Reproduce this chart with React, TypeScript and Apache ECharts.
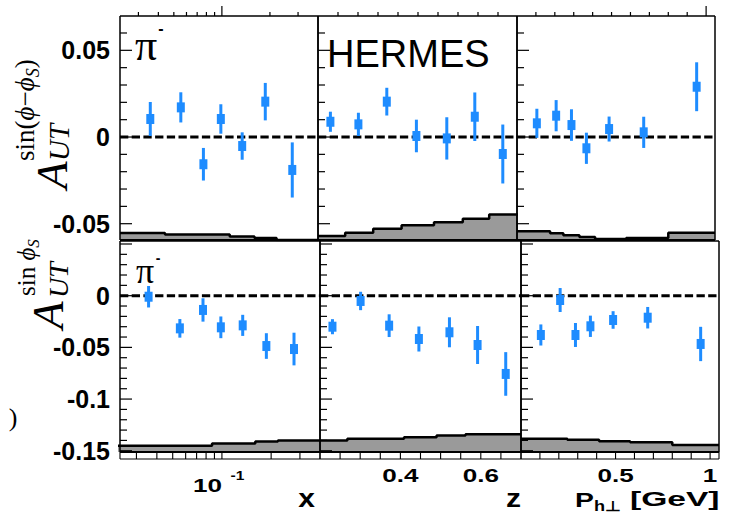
import React, { useEffect, useRef } from "react";
import * as echarts from "echarts";

// ---------- bin centres ----------
const xValues = [0.0356, 0.0553, 0.0766, 0.0985, 0.134, 0.187, 0.276];
const zValues = [0.231, 0.301, 0.372, 0.446, 0.522, 0.592, 0.662];
const phValues = [0.105, 0.207, 0.288, 0.367, 0.487, 0.67, 0.95];

// ---------- A_UT^{sin(phi-phiS)} (top row) ----------
const siversX = [0.0104, 0.0171, -0.0157, 0.0104, -0.0052, 0.0204, -0.019];
const siversXErr = [0.0098, 0.0087, 0.0094, 0.0085, 0.0079, 0.0108, 0.0159];
const siversZ = [0.0088, 0.0073, 0.0204, 0.0006, -0.0008, 0.0117, -0.0098];
const siversZErr = [0.0058, 0.0067, 0.008, 0.0094, 0.0122, 0.014, 0.017];
const siversPh = [0.0079, 0.0123, 0.0069, -0.0065, 0.0046, 0.0027, 0.029];
const siversPhErr = [0.0084, 0.009, 0.0091, 0.009, 0.0072, 0.009, 0.0141];

// ---------- A_UT^{sin phiS} (bottom row) ----------
const sinPhiSX = [-0.001, -0.0316, -0.0138, -0.0306, -0.0287, -0.0487, -0.0516];
const sinPhiSXErr = [0.0104, 0.009, 0.0113, 0.0105, 0.0102, 0.0124, 0.0158];
const sinPhiSZ = [-0.03, -0.0051, -0.029, -0.0419, -0.0354, -0.0477, -0.0757];
const sinPhiSZErr = [0.0073, 0.0089, 0.011, 0.0121, 0.0145, 0.0184, 0.0211];
const sinPhiSPh = [-0.038, -0.0042, -0.038, -0.0296, -0.0235, -0.0213, -0.0467];
const sinPhiSPhErr = [0.0102, 0.0116, 0.0116, 0.0103, 0.0085, 0.0104, 0.0166];

// ---------- systematic bands: bin edges and heights above panel floor ----------
const xEdges = [0.023, 0.044, 0.065, 0.087, 0.112, 0.16, 0.22, 0.4];
const zEdges = [0.2, 0.268, 0.338, 0.409, 0.49, 0.562, 0.628, 0.7];
const phEdges = [0, 0.175, 0.245, 0.33, 0.413, 0.577, 0.8, 1.047];
const sysSiversX = [0.004, 0.0032, 0.0032, 0.0032, 0.002, 0.0012, 0];
const sysSiversZ = [0.0023, 0.0042, 0.0065, 0.0085, 0.0103, 0.0123, 0.0147];
const sysSiversPh = [0.0051, 0.0039, 0.0027, 0.0017, 0.0006, 0.0012, 0.0042];
const sysSinPhiSX = [0.006, 0.006, 0.006, 0.0082, 0.0082, 0.0102, 0.0111];
const sysSinPhiSZ = [0.0111, 0.0128, 0.0128, 0.0143, 0.016, 0.0171, 0.0171];
const sysSinPhiSPh = [0.0128, 0.0128, 0.0118, 0.0118, 0.0104, 0.0095, 0.0068];

// ---------- ticks and tick labels ----------
const xMinorTicks = [0.03, 0.04, 0.05, 0.06, 0.07, 0.08, 0.09, 0.2, 0.3];
const xMajorTicks = [0.1];
const zMinorTicks = [0.25, 0.3, 0.35, 0.4, 0.45, 0.5, 0.55, 0.6, 0.65];
const zMajorTicks: number[] = [];
const phMinorTicks = [0.1, 0.2, 0.3, 0.4, 0.5, 0.6, 0.7, 0.8, 0.9];
const phMajorTicks = [1.0];
const yTopMinor = [-0.04, -0.03, -0.02, -0.01, 0.01, 0.02, 0.03, 0.04, 0.06];
const yTopMajor = [-0.05, 0, 0.05];
const yBotMinor = [-0.14, -0.13, -0.12, -0.11, -0.09, -0.08, -0.07, -0.06, -0.04, -0.03, -0.02, -0.01, 0.01, 0.02, 0.03, 0.04];
const yBotMajor = [-0.15, -0.1, -0.05, 0, 0.05];
const yTopLabelValues = [0.05, 0, -0.05];
const yTopLabels = ["0.05", "0", "-0.05"];
const yBotLabelValues = [0, -0.05, -0.1, -0.15];
const yBotLabels = ["0", "-0.05", "-0.1", "-0.15"];
const xLabelValues = [0.1];
const xLabels = ["10"];
const xLabelExponents = ["-1"];
const zLabelValues = [0.4, 0.6];
const zLabels = ["0.4", "0.6"];
const phLabelValues = [0.5, 1];
const phLabels = ["0.5", "1"];

const TOP_Y = [-0.0594, 0.0698];
const BOT_Y = [-0.1512, 0.0529];
const BLUE = "#1e8cff";

type Panel = {
  grid: { left: number; top: number; width: number; height: number };
  xType: "log" | "value";
  xRange: number[];
  yRange: number[];
  row: number;
  centres: number[];
  vals: number[];
  errs: number[];
  edges: number[];
  sys: number[];
  minorX: number[];
  majorX: number[];
  yLabelVals?: number[];
  yLabelTexts?: string[];
  xLabelVals?: number[];
  xLabelTexts?: string[];
  xLabelExp?: string[];
};

const panels: Panel[] = [
  { grid: { left: 120, top: 16, width: 198, height: 224 }, xType: "log", xRange: [0.023, 0.4], yRange: TOP_Y, row: 0,
    centres: xValues, vals: siversX, errs: siversXErr, edges: xEdges, sys: sysSiversX, minorX: xMinorTicks, majorX: xMajorTicks,
    yLabelVals: yTopLabelValues, yLabelTexts: yTopLabels },
  { grid: { left: 318, top: 16, width: 199, height: 224 }, xType: "value", xRange: [0.2, 0.6975], yRange: TOP_Y, row: 0,
    centres: zValues, vals: siversZ, errs: siversZErr, edges: zEdges, sys: sysSiversZ, minorX: zMinorTicks, majorX: zMajorTicks },
  { grid: { left: 517, top: 16, width: 198, height: 224 }, xType: "value", xRange: [0, 1.047], yRange: TOP_Y, row: 0,
    centres: phValues, vals: siversPh, errs: siversPhErr, edges: phEdges, sys: sysSiversPh, minorX: phMinorTicks, majorX: phMajorTicks },
  { grid: { left: 120, top: 241, width: 200, height: 211 }, xType: "log", xRange: [0.0238, 0.398], yRange: BOT_Y, row: 1,
    centres: xValues, vals: sinPhiSX, errs: sinPhiSXErr, edges: xEdges, sys: sysSinPhiSX, minorX: xMinorTicks, majorX: xMajorTicks,
    yLabelVals: yBotLabelValues, yLabelTexts: yBotLabels, xLabelVals: xLabelValues, xLabelTexts: xLabels, xLabelExp: xLabelExponents },
  { grid: { left: 320, top: 241, width: 201, height: 211 }, xType: "value", xRange: [0.2, 0.7], yRange: BOT_Y, row: 1,
    centres: zValues, vals: sinPhiSZ, errs: sinPhiSZErr, edges: zEdges, sys: sysSinPhiSZ, minorX: zMinorTicks, majorX: zMajorTicks,
    xLabelVals: zLabelValues, xLabelTexts: zLabels },
  { grid: { left: 521, top: 241, width: 198, height: 211 }, xType: "value", xRange: [0, 1.047], yRange: BOT_Y, row: 1,
    centres: phValues, vals: sinPhiSPh, errs: sinPhiSPhErr, edges: phEdges, sys: sysSinPhiSPh, minorX: phMinorTicks, majorX: phMajorTicks,
    xLabelVals: phLabelValues, xLabelTexts: phLabels },
];

const SANS = "Liberation Sans";
const SERIF = "Liberation Serif";

function txt(text: string, fontSize: number, extra: any = {}) {
  return {
    text,
    fill: "#000",
    fontSize,
    fontFamily: SANS,
    fontWeight: "bold",
    align: "center",
    verticalAlign: "middle",
    ...extra,
  };
}

function buildOption() {
  const series: any[] = [];
  panels.forEach((cfg, p) => {
    const [yMin, yMax] = cfg.yRange;
    const [xMin, xMax] = cfg.xRange;
    const n = cfg.sys.length;
    const histData = cfg.sys.map((h, i) => [cfg.edges[i], yMin + h]);
    histData.push([cfg.edges[n], yMin + cfg.sys[n - 1]]);
    series.push({
      type: "line", xAxisIndex: p, yAxisIndex: p, step: "end", symbol: "none", silent: true, z: 2,
      data: histData,
      lineStyle: { color: "#000", width: 2.5 },
      areaStyle: { color: "#9a9a9a", opacity: 1, origin: "start" },
    });
    // dashed zero line
    series.push({
      type: "custom", xAxisIndex: p, yAxisIndex: p, z: 3, silent: true,
      data: [[xMin, 0]],
      renderItem: (_: any, api: any) => {
        const a = api.coord([xMin, 0]);
        const b = api.coord([xMax, 0]);
        return { type: "line", shape: { x1: a[0], y1: a[1], x2: b[0], y2: b[1] },
          style: { stroke: "#000", lineWidth: 3, lineDash: [8.3, 3.4] } };
      },
    });
    // points with error bars
    series.push({
      type: "custom", xAxisIndex: p, yAxisIndex: p, z: 5, silent: true,
      data: cfg.centres.map((c, i) => [c, cfg.vals[i], cfg.errs[i]]),
      encode: { x: 0, y: 1 },
      renderItem: (_: any, api: any) => {
        const x = api.value(0), y = api.value(1), e = api.value(2);
        const c = api.coord([x, y]);
        const lo = api.coord([x, y - e]);
        const hi = api.coord([x, y + e]);
        return { type: "group", children: [
          { type: "line", shape: { x1: c[0], y1: lo[1], x2: c[0], y2: hi[1] }, style: { stroke: BLUE, lineWidth: 3 } },
          { type: "rect", shape: { x: c[0] - 4, y: c[1] - 5, width: 8, height: 10 }, style: { fill: BLUE } },
        ] };
      },
    });
    // frame, ticks, tick labels
    series.push({
      type: "custom", xAxisIndex: p, yAxisIndex: p, z: 6, silent: true, clip: false,
      data: [[xMin, yMin]],
      renderItem: (_: any, api: any) => {
        const P = (x: number, y: number) => api.coord([x, y]);
        const [x0, y1] = P(xMin, yMin);
        const [x1, y0] = P(xMax, yMax);
        const ch: any[] = [];
        const line = (ax: number, ay: number, bx: number, by: number, w = 1.5) =>
          ch.push({ type: "line", shape: { x1: ax, y1: ay, x2: bx, y2: by }, style: { stroke: "#000", lineWidth: w } });
        line(x0, y0, x1, y0, 1.5);
        line(x0, y1, x1, y1, 2);
        line(x0, y0, x0, y1, 1.5);
        line(x1, y0, x1, y1, 1.5);
        const yMinor = cfg.row === 0 ? yTopMinor : yBotMinor;
        const yMajor = cfg.row === 0 ? yTopMajor : yBotMajor;
        yMinor.forEach((v) => { const y = P(xMin, v)[1]; if (y >= y0 && y <= y1) line(x0, y, x0 + 7, y, 1.2); });
        yMajor.forEach((v) => { const y = P(xMin, v)[1]; if (y >= y0 && y <= y1) line(x0, y, x0 + 12, y, 1.2); });
        if (cfg.row === 0) {
          cfg.minorX.forEach((v) => { const x = P(v, yMax)[0]; line(x, y0, x, y0 - 4, 1.2); });
          cfg.majorX.forEach((v) => { const x = P(v, yMax)[0]; line(x, y0, x, y0 - 10, 1.2); });
        } else {
          [...cfg.minorX, ...cfg.majorX].forEach((v) => { const x = P(v, yMin)[0]; line(x, y1, x, y1 + 7, 1.1); });
          line(x0, y1, x0, y1 + 7, 1.1);
          line(x1, y1, x1, y1 + 7, 1.1);
          line(x0, y1 + 7, x1, y1 + 7, 1.2);
        }
        (cfg.yLabelVals || []).forEach((v, i) => {
          const y = P(xMin, v)[1];
          ch.push({ type: "text", x: x0 - 10, y, style: txt(cfg.yLabelTexts![i], 25, { align: "right" }) });
        });
        (cfg.xLabelVals || []).forEach((v, i) => {
          const x = P(v, yMin)[0];
          if (cfg.xLabelExp) {
            ch.push({ type: "text", x: x - 14.5, y: y1 + 34, scaleX: 1.45, style: txt(cfg.xLabelTexts![i], 18) });
            ch.push({ type: "text", x: x + 15.5, y: y1 + 24, scaleX: 1.3, style: txt(cfg.xLabelExp[i], 12) });
          } else {
            ch.push({ type: "text", x, y: y1 + 24, scaleX: 1.45, style: txt(cfg.xLabelTexts![i], 18) });
          }
        });
        return { type: "group", children: ch };
      },
    });
  });

  const g = (x: number, y: number, style: any, extra: any = {}) => ({ type: "text", x, y, z: 100, silent: true, ...extra, style });
  const rot = { rotation: Math.PI / 2 };
  const graphic = [
    // y-axis title top: A_UT^{sin(phi-phiS)}
    g(52, 189, txt("A", 45, { fontFamily: SERIF, fontWeight: "normal", fontStyle: "italic", align: "left" }), rot),
    g(59, 161, txt("UT", 29, { fontFamily: SERIF, fontWeight: "normal", fontStyle: "italic", align: "left" }), rot),
    g(25, 161, {
      text: "{r|sin(}{i|ϕ}{r|−}{i|ϕ}{s|S}{r|)}", fill: "#000", align: "left", verticalAlign: "middle",
      fontFamily: SERIF, fontSize: 27,
      rich: {
        r: { fontFamily: SERIF, fontSize: 27, lineHeight: 34, verticalAlign: "middle", fill: "#000" },
        i: { fontFamily: SERIF, fontSize: 27, fontStyle: "italic", lineHeight: 34, verticalAlign: "middle", fill: "#000" },
        s: { fontFamily: SERIF, fontSize: 18, fontStyle: "italic", lineHeight: 34, verticalAlign: "bottom", fill: "#000" },
      },
    }, rot),
    // y-axis title bottom: A_UT^{sin phiS}
    g(48, 329, txt("A", 45, { fontFamily: SERIF, fontWeight: "normal", fontStyle: "italic", align: "left" }), rot),
    g(58.5, 298, txt("UT", 28, { fontFamily: SERIF, fontWeight: "normal", fontStyle: "italic", align: "left" }), rot),
    g(26, 296, {
      text: "{r|sin }{i|ϕ}{s|S}", fill: "#000", align: "left", verticalAlign: "middle",
      fontFamily: SERIF, fontSize: 25,
      rich: {
        r: { fontFamily: SERIF, fontSize: 25, lineHeight: 32, verticalAlign: "middle", fill: "#000" },
        i: { fontFamily: SERIF, fontSize: 25, fontStyle: "italic", lineHeight: 32, verticalAlign: "middle", fill: "#000" },
        s: { fontFamily: SERIF, fontSize: 17, fontStyle: "italic", lineHeight: 32, verticalAlign: "bottom", fill: "#000" },
      },
    }, rot),
    // pi^- labels
    g(146, 45, txt("π", 44, { fontFamily: SERIF, fontWeight: "normal" })),
    g(161, 28, txt("-", 16)),
    g(145, 271, txt("π", 36, { fontFamily: SERIF, fontWeight: "normal" })),
    g(158, 258, txt("-", 14)),
    // HERMES
    g(327, 54, txt("HERMES", 38, { fontWeight: "normal", align: "left" })),
    // stray bracket
    g(13, 417, txt(")", 26, { fontFamily: SERIF, fontWeight: "normal" })),
    // axis titles
    g(306.5, 498, txt("x", 25), { scaleX: 1.2 }),
    g(513.5, 498, txt("z", 25), { scaleX: 1.2 }),
    g(575, 499, txt("P", 21, { align: "left" }), { scaleX: 1.35 }),
    g(594, 506, txt("h⊥", 14, { align: "left" }), { scaleX: 1.3 }),
    g(630, 499, txt("[GeV]", 21, { align: "left" }), { scaleX: 1.6 }),
  ];

  return {
    animation: false,
    backgroundColor: "#fff",
    grid: panels.map((c) => ({ ...c.grid, show: false })),
    xAxis: panels.map((c, i) => ({ type: c.xType, gridIndex: i, min: c.xRange[0], max: c.xRange[1], show: false, ...(c.xType === "log" ? { logBase: 10 } : {}) })),
    yAxis: panels.map((c, i) => ({ type: "value", gridIndex: i, min: c.yRange[0], max: c.yRange[1], show: false })),
    series,
    graphic,
  };
}

export default function App() {
  const ref = useRef<HTMLDivElement>(null);
  useEffect(() => {
    if (!ref.current) return;
    const chart = echarts.init(ref.current, undefined, { renderer: "svg" });
    chart.setOption(buildOption() as any);
    return () => chart.dispose();
  }, []);
  return <div ref={ref} style={{ position: "absolute", left: 0, top: 0, width: 730, height: 514 }} />;
}
